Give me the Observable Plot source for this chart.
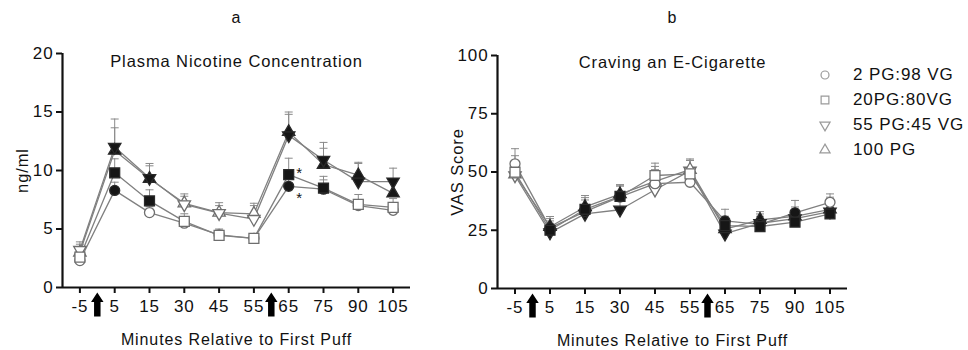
<!DOCTYPE html>
<html>
<head>
<meta charset="utf-8">
<script src="https://cdn.jsdelivr.net/npm/d3@7"></script>
<script src="https://cdn.jsdelivr.net/npm/@observablehq/plot@0.6"></script>
<style>
  body { margin: 0; background: #fff; }
  #wrap { position: relative; width: 968px; height: 350px; display: flex; font-family: "Liberation Sans", Arial, sans-serif; }
  #legend { position: absolute; left: 818px; top: 62px; font-size: 17px; letter-spacing: 0.9px; color: #111; }
  #legend .row { position: relative; height: 25px; line-height: 25px; white-space: nowrap; }
  #legend svg { position: absolute; left: 0; top: 6px; }
  #legend span { position: absolute; left: 35px; top: 0; }
</style>
</head>
<body>
<div id="wrap"><div id="pa"></div><div id="pb"></div><div id="legend"></div></div>
<script>
// ---------- shared categories ----------
const timeLabels = ["-5", "5", "15", "30", "45", "55", "65", "75", "90", "105"];
const xDomain = [-0.5, 9.5];
const arrowAt = [0.5, 5.5];
const seriesNames = ["2 PG:98 VG", "20PG:80VG", "55 PG:45 VG", "100 PG"];

// ---------- panel a: plasma nicotine (ng/ml) ----------
const nicMean2   = [2.3, 8.3, 6.4, 5.5, 4.5, 4.2, 8.65, 8.4, 7.0, 6.6];
const nicTop2    = [2.8, 9.0, 6.9, 6.0, 4.9, 4.6, 9.4, 9.2, 7.5, 7.0];
const nicFill2   = [0, 1, 0, 0, 0, 0, 1, 1, 0, 0];
const nicMean20  = [2.6, 9.8, 7.4, 5.65, 4.45, 4.2, 9.65, 8.5, 7.1, 6.85];
const nicTop20   = [3.1, 11.0, 8.35, 6.3, 5.0, 4.6, 11.05, 9.5, 7.95, 7.6];
const nicFill20  = [0, 1, 1, 0, 0, 0, 1, 1, 0, 0];
const nicMean55  = [3.2, 12.0, 9.35, 7.1, 6.35, 5.85, 13.0, 10.9, 9.05, 9.05];
const nicTop55   = [3.9, 14.4, 10.6, 8.0, 7.25, 7.2, 15.0, 12.4, 10.7, 10.2];
const nicFill55  = [0, 1, 1, 0, 0, 0, 1, 1, 1, 1];
const nicMean100 = [3.0, 11.7, 9.3, 7.2, 6.4, 6.3, 13.3, 10.5, 9.6, 8.05];
const nicTop100  = [3.7, 13.65, 10.4, 7.8, 7.0, 7.0, 14.8, 11.9, 10.6, 9.1];
const nicFill100 = [0, 1, 1, 0, 0, 0, 1, 1, 1, 1];
const nicTicks = [0, 5, 10, 15, 20];
const nicStarX = [6, 6];
const nicStarY = [10.1, 8.0];

// ---------- panel b: craving (VAS) ----------
const vasMean2   = [53.5, 26, 33, 39.3, 45, 45.6, 29, 27.5, 32.5, 37];
const vasTop2    = [60, 30, 38, 44, 51, 50, 34, 31, 37.8, 40.6];
const vasFill2   = [0, 1, 1, 1, 0, 0, 1, 1, 1, 0];
const vasMean20  = [49.9, 25, 34, 39.5, 48.5, 49.2, 27, 26.6, 28.5, 32];
const vasTop20   = [57, 29, 39.9, 44.6, 53.8, 55.6, 31, 30, 33, 36];
const vasFill20  = [0, 1, 1, 1, 0, 0, 1, 1, 1, 1];
const vasMean55  = [48.5, 24, 32, 33.8, 42.4, 50.5, 23.5, 28, 30, 33];
const vasTop55   = [53, 28, 36, 38, 47, 55, 27, 32, 34, 37];
const vasFill55  = [0, 1, 1, 1, 0, 0, 1, 1, 1, 1];
const vasMean100 = [49, 26.5, 35, 40.5, 46, 51, 25.5, 29.5, 31, 34];
const vasTop100  = [54, 30.9, 39, 44, 52.4, 55, 30, 33, 35, 39.2];
const vasFill100 = [0, 1, 1, 1, 0, 0, 1, 1, 1, 1];
const vasTicks = [0, 25, 50, 75, 100];

// ---------- symbols ----------
const sqrt3 = Math.sqrt(3);
const triangleDown = {
  draw(ctx, size) {
    const y = -Math.sqrt(size / (sqrt3 * 3));
    ctx.moveTo(0, -y * 2);
    ctx.lineTo(-sqrt3 * y, y);
    ctx.lineTo(sqrt3 * y, y);
    ctx.closePath();
  }
};
const capSymbol = {
  draw(ctx, size) {
    const w = Math.sqrt(size / Math.PI);
    ctx.moveTo(-w, 0);
    ctx.lineTo(w, 0);
  }
};
const arrowSymbol = {
  draw(ctx, size) {
    const k = Math.sqrt(size / Math.PI);
    ctx.moveTo(0, -k);
    ctx.lineTo(-0.52 * k, -0.2 * k);
    ctx.lineTo(-0.27 * k, -0.2 * k);
    ctx.lineTo(-0.27 * k, k);
    ctx.lineTo(0.27 * k, k);
    ctx.lineTo(0.27 * k, -0.2 * k);
    ctx.lineTo(0.52 * k, -0.2 * k);
    ctx.closePath();
  }
};
const symbolSpecs = [
  {symbol: "circle", r: 5},
  {symbol: "square", r: 5.6},
  {symbol: triangleDown, r: 4.6},
  {symbol: "triangle", r: 4.6}
];

function rows(means, tops, fills) {
  return means.map((m, i) => ({i, mean: m, top: tops[i], filled: fills[i] === 1}));
}

function panel({series, order, ticks, yMax, yLabel, title, letter, width, ml, mr, mt, mb, titleDy, letterDy, stars}) {
  const marks = [];
  // error bars (upper SEM only)
  for (const s of series) {
    marks.push(Plot.ruleX(s, {x: "i", y1: "mean", y2: "top", stroke: "#8a8a8a", strokeWidth: 1}));
    marks.push(Plot.dot(s, {x: "i", y: "top", symbol: capSymbol, r: 4, stroke: "#8a8a8a", strokeWidth: 1, fill: "none"}));
  }
  // lines
  for (const k of order) {
    marks.push(Plot.line(series[k], {x: "i", y: "mean", stroke: "#808080", strokeWidth: 1.3}));
  }
  // markers
  for (const k of order) {
    const sp = symbolSpecs[k];
    marks.push(Plot.dot(series[k], {
      x: "i", y: "mean", symbol: sp.symbol, r: sp.r,
      fill: d => d.filled ? "#161616" : "#ffffff",
      stroke: d => d.filled ? "#2a2a2a" : "#6e6e6e",
      strokeWidth: 1.3
    }));
  }
  if (stars) {
    marks.push(Plot.text(stars.x, {x: d => d, y: (d, j) => stars.y[j], text: () => "*", dx: 11, dy: 4, fontSize: 15, fill: "#111"}));
  }
  // axes
  marks.push(Plot.ruleY([0], {stroke: "#111", strokeWidth: 2.2}));
  marks.push(Plot.ruleX([xDomain[0]], {stroke: "#111", strokeWidth: 2.2}));
  marks.push(Plot.axisY({ticks, tickSize: 6, tickPadding: 3, fontSize: 17, strokeWidth: 2, label: null}));
  marks.push(Plot.axisX({ticks: d3.range(timeLabels.length), tickFormat: i => timeLabels[i], tickSize: 6, tickPadding: 6, fontSize: 17, strokeWidth: 2, label: null}));
  marks.push(Plot.dot(arrowAt, {x: d => d, frameAnchor: "bottom", dy: 17, symbol: arrowSymbol, r: 12, fill: "#000", stroke: "none"}));
  // texts
  marks.push(Plot.text([title], {frameAnchor: "top", lineAnchor: "middle", dy: titleDy, fontSize: 16.5}));
  marks.push(Plot.text([letter], {frameAnchor: "top", lineAnchor: "middle", dy: letterDy, fontSize: 16}));
  marks.push(Plot.text(["Minutes Relative to First Puff"], {frameAnchor: "bottom", lineAnchor: "middle", dy: 52, fontSize: 16}));
  marks.push(Plot.text([yLabel], {frameAnchor: "left", textAnchor: "middle", lineAnchor: "middle", rotate: -90, dx: -40, fontSize: 16.5}));
  return Plot.plot({
    width, height: 350,
    marginLeft: ml, marginRight: mr, marginTop: mt, marginBottom: mb,
    x: {type: "linear", domain: xDomain},
    y: {domain: [0, yMax]},
    style: {fontFamily: "'Liberation Sans', Arial, sans-serif", fontSize: "16px", letterSpacing: "0.9px", color: "#111", background: "#fff", overflow: "visible"},
    marks
  });
}

const nicSeries = [
  rows(nicMean2, nicTop2, nicFill2),
  rows(nicMean20, nicTop20, nicFill20),
  rows(nicMean55, nicTop55, nicFill55),
  rows(nicMean100, nicTop100, nicFill100)
];
const vasSeries = [
  rows(vasMean2, vasTop2, vasFill2),
  rows(vasMean20, vasTop20, vasFill20),
  rows(vasMean55, vasTop55, vasFill55),
  rows(vasMean100, vasTop100, vasFill100)
];

document.getElementById("pa").append(panel({
  series: nicSeries, order: [0, 3, 2, 1], ticks: nicTicks, yMax: 20,
  yLabel: "ng/ml", title: "Plasma Nicotine Concentration", letter: "a",
  width: 440, ml: 62, mr: 30, mt: 53, mb: 63, titleDy: 8, letterDy: -36,
  stars: {x: nicStarX, y: nicStarY}
}));
document.getElementById("pb").append(panel({
  series: vasSeries, order: [2, 3, 0, 1], ticks: vasTicks, yMax: 100,
  yLabel: "VAS Score", title: "Craving an E-Cigarette", letter: "b",
  width: 528, ml: 57, mr: 121, mt: 55, mb: 62, titleDy: 7, letterDy: -38
}));

// legend
const legendShapes = [d3.symbolCircle, d3.symbolSquare, null, d3.symbolTriangle];
const legendSizes = [50, 60, 45, 45];
const leg = d3.select("#legend");
seriesNames.forEach((name, k) => {
  const row = leg.append("div").attr("class", "row");
  const svg = row.append("svg").attr("width", 14).attr("height", 14);
  const sym = k === 2 ? triangleDown : legendShapes[k];
  svg.append("path")
    .attr("transform", "translate(7,7)")
    .attr("d", d3.symbol(sym, legendSizes[k])())
    .attr("fill", "none").attr("stroke", "#9a9a9a").attr("stroke-width", 1.2);
  row.append("span").text(name);
});
</script>
</body>
</html>
